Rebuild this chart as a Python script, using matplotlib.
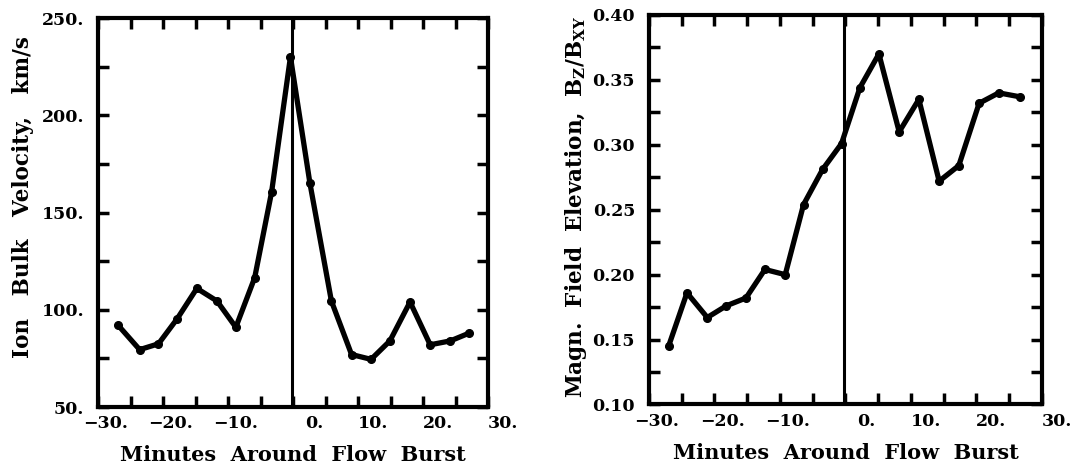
import numpy as np
import matplotlib
matplotlib.use("Agg")
import matplotlib.pyplot as plt
import matplotlib.transforms as mtransforms

plt.rcParams['font.family'] = 'DejaVu Serif'
plt.rcParams['font.weight'] = 'bold'
plt.rcParams['mathtext.fontset'] = 'dejavuserif'

# ---- data ----
# left panel: ion bulk velocity (km/s)
vel_t = [-26.9, -23.6, -20.7, -17.8, -14.8, -11.7, -8.8, -5.9, -3.3, -0.4,
         2.6, 5.9, 9.0, 12.0, 14.9, 18.0, 21.1, 24.2, 27.1]
vel_v = [92, 79.5, 82.5, 95.5, 111, 104.5, 91, 116.5, 160.5, 230,
         165, 104.5, 77, 74.5, 84, 104, 82, 84, 88]

# right panel: magnetic field elevation Bz/Bxy
elev_t = [-27.0, -24.2, -21.1, -18.2, -15.2, -12.3, -9.2, -6.4, -3.5, -0.6,
          2.2, 5.1, 8.2, 11.2, 14.3, 17.3, 20.4, 23.4, 26.6]
elev_v = [0.145, 0.186, 0.167, 0.176, 0.182, 0.204, 0.200, 0.254, 0.281, 0.301,
          0.344, 0.370, 0.310, 0.335, 0.272, 0.284, 0.332, 0.340, 0.337]

burst_t = -0.2
xticks_major = [-30, -20, -10, 0, 10, 20, 30]
xtick_labels = ['\u221230.', '\u221220.', '\u221210.', '0.', '10.', '20.', '30.']

vel_ticks = [50, 100, 150, 200, 250]
vel_labels = ['50.', '100.', '150.', '200.', '250.']
elev_ticks = [0.10, 0.15, 0.20, 0.25, 0.30, 0.35, 0.40]
elev_labels = ['0.10', '0.15', '0.20', '0.25', '0.30', '0.35', '0.40']

fig = plt.figure(figsize=(10.75, 4.68), dpi=100)
ax1 = fig.add_axes([0.0912, 0.1303, 0.3628, 0.8312])
ax2 = fig.add_axes([0.6037, 0.1357, 0.3656, 0.8323])


def style_axes(ax, yticks, ylabels, yminor):
    for sp in ax.spines.values():
        sp.set_linewidth(3.0)
    ax.set_xlim(-30, 30)
    ax.set_xticks(xticks_major)
    ax.set_xticklabels(xtick_labels)
    ax.set_xticks(np.arange(-25, 30, 10), minor=True)
    ax.set_yticks(yticks)
    ax.set_yticklabels(ylabels)
    ax.set_yticks(yminor, minor=True)
    ax.tick_params(which='both', direction='in', length=8, width=2.5,
                   top=True, right=True, labelsize=12.5)
    ax.tick_params(axis='y', which='both', pad=10)
    ax.tick_params(axis='x', which='both', pad=6)
    # labels sit to the right of their ticks in the original
    offset = mtransforms.ScaledTranslation(0.30, 0, fig.dpi_scale_trans)
    for lab in ax.get_xticklabels():
        lab.set_horizontalalignment('right')
        lab.set_transform(lab.get_transform() + offset)


ax1.plot(vel_t, vel_v, color='black', lw=3.8, marker='o', ms=5.5,
         solid_joinstyle='round', zorder=3)
ax1.axvline(burst_t, color='black', lw=2.2)
ax1.set_ylim(50, 250)
style_axes(ax1, vel_ticks, vel_labels, [75, 125, 175, 225])

ax2.plot(elev_t, elev_v, color='black', lw=3.8, marker='o', ms=5.5,
         solid_joinstyle='round', zorder=3)
ax2.axvline(burst_t, color='black', lw=2.2)
ax2.set_ylim(0.10, 0.40)
style_axes(ax2, elev_ticks, elev_labels, [0.125, 0.175, 0.225, 0.275, 0.325, 0.375])

# axis titles
fig.text(0.021, 0.579, 'Ion   Bulk   Velocity,   km/s', rotation=90,
         ha='center', va='center', fontsize=15.5, fontweight='bold')
fig.text(0.536, 0.557,
         r'Magn.  Field  Elevation,  B$_\mathbf{Z}$/B$_\mathbf{XY}$',
         rotation=90, ha='center', va='center', fontsize=15.5, fontweight='bold')
fig.text(0.2726, 0.028, 'Minutes  Around  Flow  Burst',
         ha='center', va='center', fontsize=15, fontweight='bold')
fig.text(0.7865, 0.033, 'Minutes  Around  Flow  Burst',
         ha='center', va='center', fontsize=15, fontweight='bold')

fig.savefig('out.png', dpi=100)
